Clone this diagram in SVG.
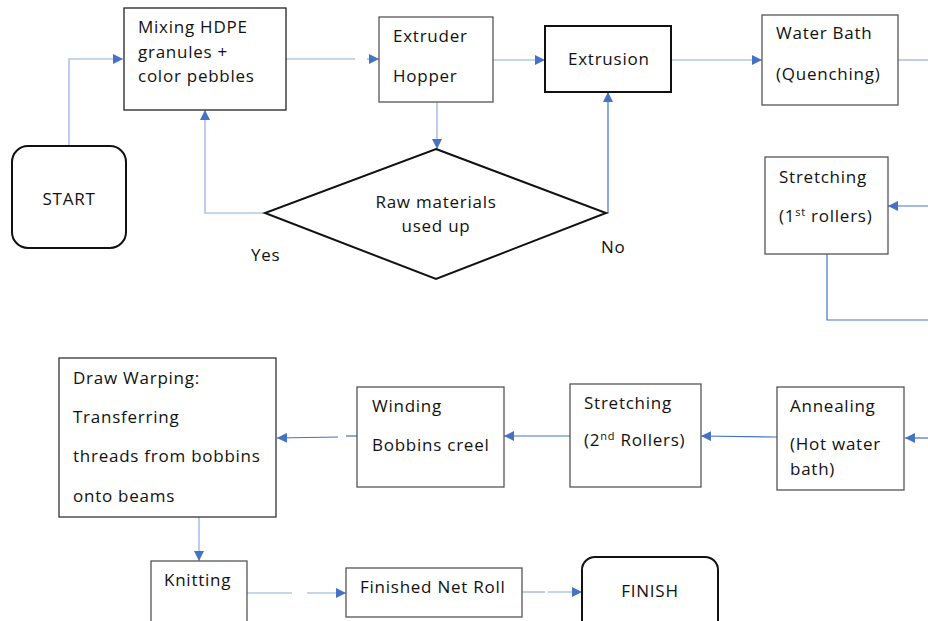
<svg xmlns="http://www.w3.org/2000/svg" width="928" height="621" viewBox="0 0 928 621">
<style>
text{font-family:"Open Sans","Noto Sans","Liberation Sans",sans-serif;font-size:17px;letter-spacing:0.75px;fill:#111}
.box{fill:#fff;stroke:#555;stroke-width:1.3}
.bold{fill:#fff;stroke:#111;stroke-width:2}
.ln{fill:none;stroke:#8faadc;stroke-width:1.2}
.dk{fill:none;stroke:#4472c4;stroke-width:1.2}
.c{text-anchor:middle}
</style>
<defs>
<marker id="ah" viewBox="0 0 10 10" refX="10" refY="5" markerWidth="10" markerHeight="10" markerUnits="userSpaceOnUse" orient="auto">
<path d="M0,0 L10,5 L0,10 z" fill="#4472c4"/>
</marker>
</defs>
<g id="connectors">
<polyline class="ln" points="69,146 69,59 123,59" marker-end="url(#ah)"/>
<line class="ln" x1="286" y1="59" x2="355" y2="59"/>
<line class="ln" x1="367" y1="59" x2="379" y2="59" marker-end="url(#ah)"/>
<line class="ln" x1="493" y1="60" x2="545" y2="60" marker-end="url(#ah)"/>
<line class="ln" x1="671" y1="60" x2="762" y2="60" marker-end="url(#ah)"/>
<line class="ln" x1="898" y1="60" x2="928" y2="60"/>
<line class="ln" x1="437" y1="102" x2="437" y2="149" marker-end="url(#ah)"/>
<polyline class="ln" points="265,213 205,213 205,110" marker-end="url(#ah)"/>
<polyline class="dk" points="606,213 608,213 608,92" marker-end="url(#ah)"/>
<line class="dk" x1="928" y1="206" x2="888" y2="206" marker-end="url(#ah)"/>
<polyline class="dk" points="827,254 827,320 928,320"/>
<line class="dk" x1="928" y1="438" x2="905" y2="438" marker-end="url(#ah)"/>
<line class="dk" x1="777" y1="437" x2="701" y2="436" marker-end="url(#ah)"/>
<line class="dk" x1="570" y1="436" x2="504" y2="436" marker-end="url(#ah)"/>
<line class="dk" x1="357" y1="436" x2="346" y2="436"/>
<line class="dk" x1="338" y1="437" x2="277" y2="438" marker-end="url(#ah)"/>
<line class="ln" x1="199" y1="517" x2="199" y2="561" marker-end="url(#ah)"/>
<line class="ln" x1="247" y1="593" x2="292" y2="593"/>
<line class="ln" x1="307" y1="593" x2="346" y2="593" marker-end="url(#ah)"/>
<line class="ln" x1="522" y1="592" x2="545" y2="592"/>
<line class="ln" x1="548" y1="592" x2="582" y2="592" marker-end="url(#ah)"/>
</g>
<g id="start">
<rect class="bold" x="12" y="146" width="114" height="102" rx="16"/>
<text class="c" x="69" y="205">START</text>
</g>
<g id="mixing">
<rect class="box" style="stroke:#222" x="124" y="8" width="162" height="102"/>
<text x="138" y="33">Mixing HDPE</text>
<text x="138" y="58">granules +</text>
<text x="138" y="82">color pebbles</text>
</g>
<g id="hopper">
<rect class="box" x="379" y="17" width="114" height="85"/>
<text x="393" y="42">Extruder</text>
<text x="393" y="82">Hopper</text>
</g>
<g id="extrusion">
<rect class="bold" x="545" y="26" width="126" height="66"/>
<text x="568" y="65">Extrusion</text>
</g>
<g id="waterbath">
<rect class="box" x="762" y="15" width="136" height="90"/>
<text x="776" y="39">Water Bath</text>
<text x="776" y="80">(Quenching)</text>
</g>
<g id="decision">
<polygon class="bold" points="436,149 606,213 436,279 265,213"/>
<text class="c" x="436" y="208">Raw materials</text>
<text class="c" x="436" y="232">used up</text>
</g>
<g id="labels">
<text x="251" y="261">Yes</text>
<text x="601" y="253">No</text>
</g>
<g id="stretch1">
<rect class="box" x="765" y="157" width="123" height="97"/>
<text x="779" y="183">Stretching</text>
<text x="779" y="222">(1<tspan font-size="11" dy="-6">st</tspan><tspan dy="6"> rollers)</tspan></text>
</g>
<g id="annealing">
<rect class="box" x="777" y="387" width="127" height="103"/>
<text x="790" y="412">Annealing</text>
<text x="790" y="450">(Hot water</text>
<text x="790" y="475">bath)</text>
</g>
<g id="stretch2">
<rect class="box" x="570" y="384" width="131" height="103"/>
<text x="584" y="409">Stretching</text>
<text x="584" y="446">(2<tspan font-size="11" dy="-6">nd</tspan><tspan dy="6"> Rollers)</tspan></text>
</g>
<g id="winding">
<rect class="box" x="357" y="387" width="147" height="100"/>
<text x="372" y="412">Winding</text>
<text x="372" y="451">Bobbins creel</text>
</g>
<g id="warping">
<rect class="box" style="stroke:#333" x="59" y="358" width="217" height="159"/>
<text x="73" y="384">Draw Warping:</text>
<text x="73" y="423">Transferring</text>
<text x="73" y="462">threads from bobbins</text>
<text x="73" y="502">onto beams</text>
</g>
<g id="knitting">
<rect class="box" x="151" y="561" width="96" height="70"/>
<text x="164" y="586">Knitting</text>
</g>
<g id="finished">
<rect class="box" x="346" y="568" width="176" height="49"/>
<text x="360" y="593">Finished Net Roll</text>
</g>
<g id="finish">
<rect class="bold" x="582" y="557" width="136" height="80" rx="13"/>
<text class="c" x="650" y="597">FINISH</text>
</g>
</svg>
